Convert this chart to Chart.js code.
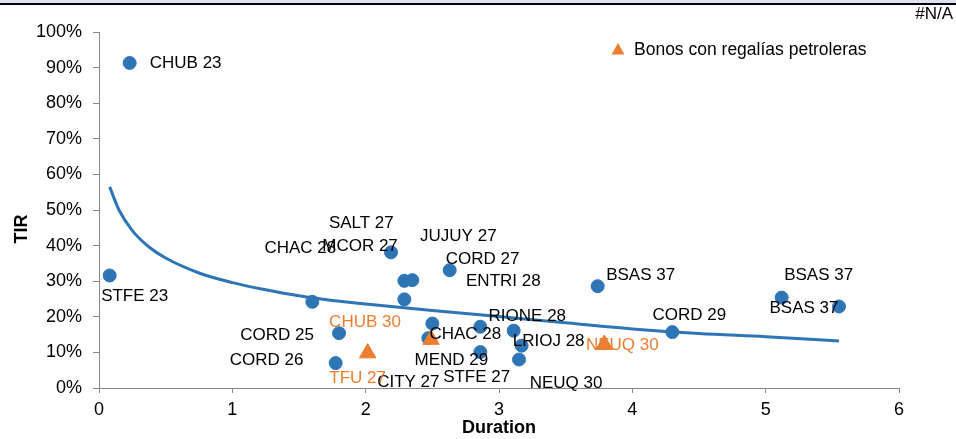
<!DOCTYPE html>
<html>
<head>
<meta charset="utf-8">
<script src="https://cdn.jsdelivr.net/npm/chart.js@4"></script>
<style>
  html, body { margin: 0; padding: 0; background: #fff; }
  #wrap { position: relative; width: 956px; height: 439px; overflow: hidden; }
  #band { position: absolute; left: 0; top: 0; width: 956px; height: 3px; background: #dbe5f1; }
  #rule { position: absolute; left: 0; top: 3px; width: 956px; height: 2px; background: #000; }
  #na { position: absolute; right: 3px; top: 4px; font: 17px "Liberation Sans", Arial, sans-serif; color: #000; }
  canvas { position: absolute; left: 0; top: 0; }
</style>
</head>
<body>
<div id="wrap">
  <canvas id="chart" width="956" height="439"></canvas>
  <div id="band"></div>
  <div id="rule"></div>
  <div id="na">#N/A</div>
</div>
<script>
// datos
const bonoNames = ['CHUB 23','STFE 23','CHAC 28','CORD 25','CORD 26','MCOR 27','SALT 27','JUJUY 27','CORD 27','ENTRI 28',
                   'CHAC 28','MEND 29','RIONE 28','CITY 27','STFE 27','LRIOJ 28','NEUQ 30','BSAS 37','CORD 29','BSAS 37','BSAS 37'];
const bonoDuration = [0.23,0.08,1.60,1.80,1.775,2.19,2.29,2.35,2.63,2.29,2.50,2.47,2.86,2.86,3.17,3.11,3.15,3.74,4.30,5.12,5.55];
const bonoTir = [91.3,31.6,24.2,15.4,7.0,38.1,30.1,30.3,33.1,24.9,18.1,14.0,17.2,10.1,11.9,16.1,8.0,28.6,15.7,25.4,22.9];

const regaliasNames = ['TFU 27','CHUB 30','NEUQ 30'];
const regaliasDuration = [2.015,2.49,3.79];
const regaliasTir = [9.8,13.6,12.2];

// curva de tendencia (leída punto a punto)
const trendDuration = [0.08,0.15,0.25,0.375,0.5,0.75,1.0,1.25,1.5,1.75,2.0,2.5,3.0,3.5,4.0,4.5,5.0,5.55];
const trendTir = [56.5,50.0,44.2,39.6,36.5,32.3,29.6,27.6,25.9,24.6,23.6,21.8,20.1,18.3,16.6,15.3,14.4,13.2];

const xTicks = [0,1,2,3,4,5,6];
const yTicks = [0,10,20,30,40,50,60,70,80,90,100];

// desplazamiento de etiquetas (px, centro del texto respecto del punto)
const bonoLabelShift = [[56,0],[25,21],[-12,-54],[-62,2],[-69,-3],[-31,-6],[-43,-58],[46,-44],[33,-11],[99,-18],
                        [33,11],[23,22],[47,-10],[-72,30],[-45,32],[35,11],[47,24],[43,-11],[17,-17],[37,-22],[-35,2]];
const regaliasLabelShift = [[-10,25],[-66,-17],[18,1]];

const BLUE = '#2E75B6';
const ORANGE = '#ED7D31';
const AXIS = '#868686';
const FONT = '"Liberation Sans", Arial, sans-serif';

const toXY = (xs, ys) => xs.map((x, i) => ({ x, y: ys[i] }));

const labelPlugin = {
  id: 'labels',
  afterDatasetsDraw(chart) {
    const ctx = chart.ctx;
    ctx.save();
    ctx.font = '17px ' + FONT;
    ctx.textAlign = 'center';
    ctx.textBaseline = 'middle';
    const drawSet = (idx, names, shift, color) => {
      chart.getDatasetMeta(idx).data.forEach((pt, i) => {
        ctx.fillStyle = color;
        ctx.fillText(names[i], pt.x + shift[i][0], pt.y + shift[i][1]);
      });
    };
    drawSet(1, bonoNames, bonoLabelShift, '#000');
    drawSet(2, regaliasNames, regaliasLabelShift, ORANGE);

    // leyenda
    ctx.fillStyle = ORANGE;
    ctx.beginPath();
    ctx.moveTo(618, 43);
    ctx.lineTo(624.5, 54.5);
    ctx.lineTo(611.5, 54.5);
    ctx.closePath();
    ctx.fill();
    ctx.fillStyle = '#000';
    ctx.textAlign = 'left';
    ctx.font = '17.5px ' + FONT;
    ctx.fillText('Bonos con regalías petroleras', 634, 50);

    // títulos de ejes
    ctx.font = 'bold 18px ' + FONT;
    ctx.textAlign = 'center';
    ctx.fillText('Duration', (chart.chartArea.left + chart.chartArea.right) / 2, 428);
    ctx.translate(22, 229);
    ctx.rotate(-Math.PI / 2);
    ctx.fillText('TIR', 0, 0);
    ctx.restore();
  }
};

new Chart(document.getElementById('chart'), {
  type: 'scatter',
  data: {
    datasets: [
      {
        type: 'line',
        label: 'Tendencia',
        data: toXY(trendDuration, trendTir),
        borderColor: BLUE,
        borderWidth: 3,
        pointRadius: 0,
        fill: false,
        cubicInterpolationMode: 'monotone',
        order: 3
      },
      {
        label: 'Bonos',
        data: toXY(bonoDuration, bonoTir),
        backgroundColor: BLUE,
        borderColor: BLUE,
        pointRadius: 6.5,
        pointStyle: 'circle',
        order: 2
      },
      {
        label: 'Bonos con regalías petroleras',
        data: toXY(regaliasDuration, regaliasTir),
        backgroundColor: ORANGE,
        borderColor: ORANGE,
        pointRadius: 9.5,
        pointStyle: 'triangle',
        order: 1
      }
    ]
  },
  options: {
    responsive: false,
    animation: false,
    layout: { padding: { left: 0, right: 57, top: 32, bottom: 0 } },
    plugins: { legend: { display: false }, tooltip: { enabled: false } },
    scales: {
      x: {
        type: 'linear',
        min: 0, max: 6,
        afterBuildTicks: s => { s.ticks = xTicks.map(v => ({ value: v })); },
        afterFit: s => { s.height = 51; },
        ticks: { color: '#000', font: { family: FONT, size: 18 }, padding: 6, maxRotation: 0 },
        grid: { drawOnChartArea: false, tickLength: 5, color: AXIS },
        border: { color: AXIS, width: 1 }
      },
      y: {
        type: 'linear',
        min: 0, max: 100,
        afterBuildTicks: s => { s.ticks = yTicks.map(v => ({ value: v })); },
        afterFit: s => { s.width = 99; },
        ticks: { color: '#000', font: { family: FONT, size: 18 }, padding: 11, callback: v => v + '%' },
        grid: { drawOnChartArea: false, tickLength: 6, color: AXIS },
        border: { color: AXIS, width: 1 }
      }
    }
  },
  plugins: [labelPlugin]
});
</script>
</body>
</html>
